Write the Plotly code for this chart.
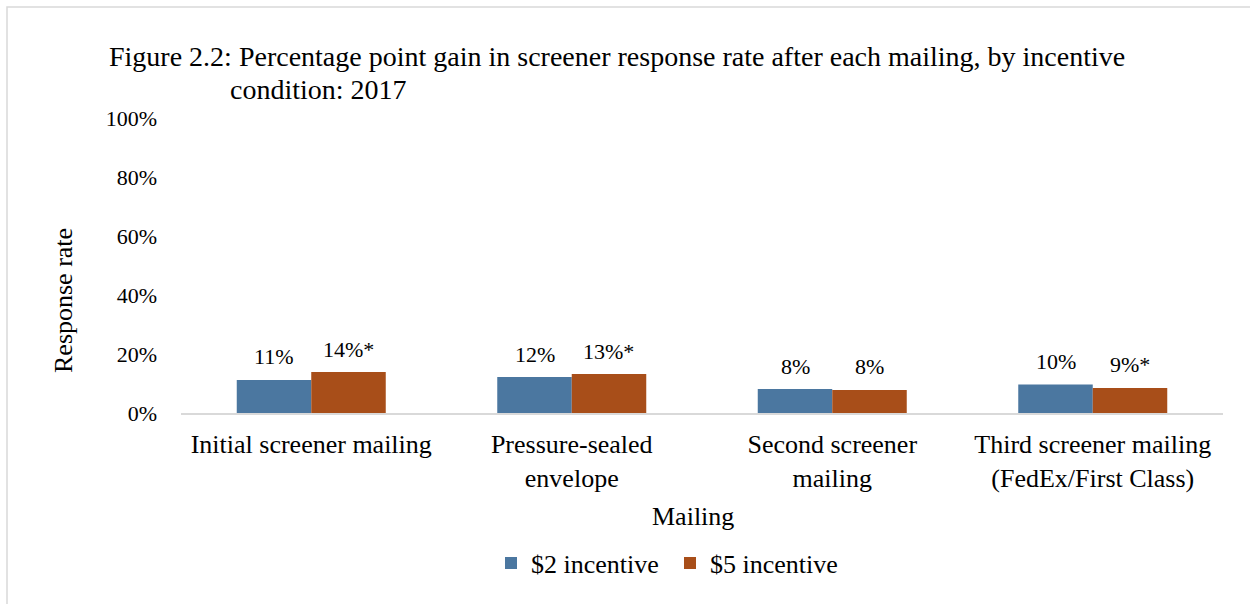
import plotly.graph_objects as go

categories = ["Initial screener mailing", "Pressure-sealed<br>envelope",
              "Second screener<br>mailing", "Third screener mailing<br>(FedEx/First Class)"]
series_names = ["$2 incentive", "$5 incentive"]
values_2 = [11.2, 12.2, 8.1, 9.7]
values_5 = [13.9, 13.2, 7.8, 8.5]
labels_2 = ["11%", "12%", "8%", "10%"]
labels_5 = ["14%*", "13%*", "8%", "9%*"]
y_ticks = [0, 20, 40, 60, 80, 100]
y_tick_labels = ["0%", "20%", "40%", "60%", "80%", "100%"]

FONT = "Liberation Serif, Times New Roman, serif"
BLUE = "#4B77A0"
ORANGE = "#A84E19"

W, H = 1250, 604
L, R, T, B = 181, 27, 118, 191
PW, PH = W - L - R, H - T - B

def px_x(p):
    return (p - L) / PW

def px_y(p):
    return (H - B - p) / PH

fig = go.Figure()
fig.add_trace(go.Bar(x=categories, y=values_2, name=series_names[0],
                     marker=dict(color=BLUE, line=dict(width=0))))
fig.add_trace(go.Bar(x=categories, y=values_5, name=series_names[1],
                     marker=dict(color=ORANGE, line=dict(width=0))))

annotations = []
for cat, v, lab in zip(categories, values_2, labels_2):
    annotations.append(dict(x=cat, y=v, xref="x", yref="y", text=lab, showarrow=False,
                            xshift=-37, yshift=23, yanchor="middle",
                            font=dict(family=FONT, size=22, color="#000000")))
for cat, v, lab in zip(categories, values_5, labels_5):
    annotations.append(dict(x=cat, y=v, xref="x", yref="y", text=lab, showarrow=False,
                            xshift=37, yshift=23, yanchor="middle",
                            font=dict(family=FONT, size=22, color="#000000")))

# Title (two lines with hanging indent)
annotations.append(dict(x=px_x(107), y=px_y(57), xref="paper", yref="paper",
                        text="Figure 2.2: Percentage point gain in screener response rate after each mailing, by incentive",
                        showarrow=False, xanchor="left", yanchor="middle",
                        font=dict(family=FONT, size=28, color="#000000")))
annotations.append(dict(x=px_x(228), y=px_y(89), xref="paper", yref="paper",
                        text="condition: 2017",
                        showarrow=False, xanchor="left", yanchor="middle",
                        font=dict(family=FONT, size=28, color="#000000")))
# Axis titles
annotations.append(dict(x=px_x(63), y=px_y(301), xref="paper", yref="paper",
                        text="Response rate", textangle=-90, showarrow=False,
                        xanchor="center", yanchor="middle",
                        font=dict(family=FONT, size=26, color="#000000")))
annotations.append(dict(x=px_x(693), y=px_y(516), xref="paper", yref="paper",
                        text="Mailing", showarrow=False,
                        xanchor="center", yanchor="middle",
                        font=dict(family=FONT, size=26, color="#000000")))

fig.update_layout(
    width=W, height=H,
    margin=dict(l=L, r=R, t=T, b=B),
    paper_bgcolor="white", plot_bgcolor="white",
    barmode="group", bargap=0.428, bargroupgap=0,
    font=dict(family=FONT, color="#000000"),
    showlegend=True,
    legend=dict(orientation="h", x=px_x(491), y=px_y(563), xanchor="left", yanchor="middle",
                entrywidth=134, entrywidthmode="pixels",
                font=dict(family=FONT, size=26, color="#000000"), traceorder="normal"),
    annotations=annotations,
    shapes=[dict(type="rect", xref="paper", yref="paper",
                 x0=px_x(7), x1=px_x(1270), y0=px_y(7), y1=px_y(640),
                 line=dict(color="#D9D9D9", width=1.5), fillcolor="rgba(0,0,0,0)", layer="below")],
)
fig.update_xaxes(showline=True, linecolor="#D9D9D9", linewidth=1.5, showgrid=False,
                 ticks="", tickfont=dict(family=FONT, size=26, color="#000000"),
                 zeroline=False, ticklabelstandoff=7)
fig.update_yaxes(range=[0, 100], tickmode="array", tickvals=y_ticks, ticktext=y_tick_labels,
                 showgrid=False, showline=False, zeroline=False, ticks="",
                 tickfont=dict(family=FONT, size=22, color="#000000"), ticklabelstandoff=23)

fig.write_html("out.html", config={"displayModeBar": False},
               post_script="document.body.style.margin='0';")
